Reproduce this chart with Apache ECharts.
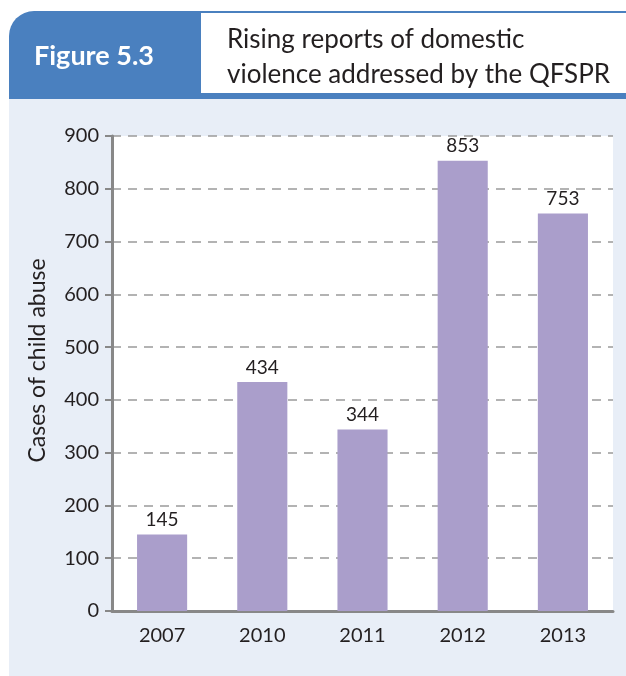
<!DOCTYPE html>
<html>
<head>
<meta charset="utf-8">
<script src="https://cdn.jsdelivr.net/npm/echarts@6/dist/echarts.min.js"></script>
<style>
html, body { margin: 0; padding: 0; background: #fff; }
#chart { width: 626px; height: 676px; }
</style>
</head>
<body>
<div id="chart"></div>
<script>
// data
var years = ['2007', '2010', '2011', '2012', '2013'];
var cases = [145, 434, 344, 853, 753];
var yTicks = { min: 0, max: 900, interval: 100 };

var blue = '#4a80bf';
var panel = '#e8eef7';
var txt = '#231f20';
var font = 'Lato, "Open Sans", sans-serif';

var myChart = echarts.init(document.getElementById('chart'));
var option = {
    backgroundColor: '#fff',
    animation: false,
    graphic: [
        { type: 'rect', z: -10, shape: { x: 9, y: 11, width: 617, height: 88, r: [25, 0, 0, 0] }, style: { fill: blue } },
        { type: 'rect', z: -9, shape: { x: 201, y: 13, width: 425, height: 80 }, style: { fill: '#fff' } },
        { type: 'rect', z: -10, shape: { x: 9, y: 99, width: 617, height: 577 }, style: { fill: panel } },
        { type: 'text', z: 10, style: { text: 'Figure 5.3', x: 94, y: 56, align: 'center', verticalAlign: 'middle',
            fill: '#fff', font: 'bold 27px ' + font } },
        { type: 'text', z: 10, style: { text: 'Rising reports of domestic\nviolence addressed by the QFSPR', x: 227, y: 22,
            fill: txt, font: '26px ' + font, lineHeight: 35 } }
    ],
    grid: {
        left: 112, right: 13, top: 136, bottom: 65,
        show: true, backgroundColor: '#fff', borderWidth: 0
    },
    xAxis: {
        type: 'category',
        data: years,
        axisLine: { lineStyle: { color: '#888', width: 3 } },
        axisTick: { length: 8, lineStyle: { color: '#888', width: 2 } },
        axisLabel: { color: txt, fontSize: 20, fontFamily: font, margin: 15 }
    },
    yAxis: {
        type: 'value',
        min: yTicks.min, max: yTicks.max, interval: yTicks.interval,
        name: 'Cases of child abuse',
        nameLocation: 'middle',
        nameGap: 63,
        nameTextStyle: { color: txt, fontSize: 23, fontFamily: font, padding: [0, 0, 0, 26] },
        axisLine: { show: true, lineStyle: { color: '#888', width: 3 } },
        axisTick: { show: true, length: 7, lineStyle: { color: '#888', width: 2 } },
        axisLabel: { color: txt, fontSize: 20, fontFamily: font, margin: 13 },
        splitLine: { lineStyle: { color: '#9a9a9a', width: 1.5, type: [9, 7] } }
    },
    series: [{
        type: 'bar',
        data: cases,
        barWidth: '50%',
        itemStyle: { color: '#aa9ecb' },
        label: { show: true, position: 'top', distance: 5, color: txt, fontSize: 19, fontFamily: font }
    }]
};
myChart.setOption(option);
</script>
</body>
</html>
